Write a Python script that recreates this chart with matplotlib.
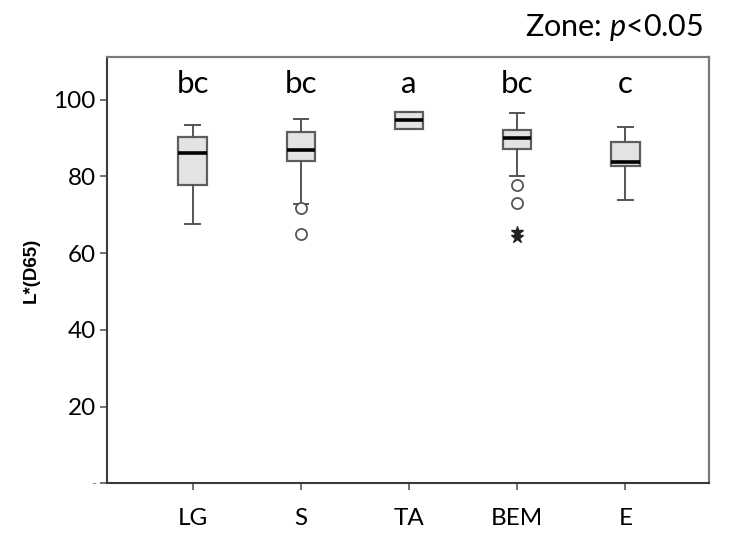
import matplotlib
matplotlib.use('Agg')
import matplotlib.pyplot as plt

plt.rcParams['font.family'] = ['Lato', 'DejaVu Sans']
plt.rcParams['mathtext.fontset'] = 'custom'
plt.rcParams['mathtext.rm'] = 'Lato'
plt.rcParams['mathtext.it'] = 'Lato:italic'

# values
groups = ['LG', 'S', 'TA', 'BEM', 'E']
whislo = [67.6, 72.9, 92.3, 80.2, 73.9]
q1 = [77.8, 83.9, 92.3, 87.1, 82.6]
med = [86.0, 86.9, 94.6, 90.0, 83.7]
q3 = [90.3, 91.7, 96.8, 92.0, 89.1]
whishi = [93.5, 95.0, 96.8, 96.5, 93.0]
outliers = [[], [71.7, 65.0], [], [77.8, 73.0], []]
extremes = [[], [], [], [65.6, 64.1], []]
letters = ['bc', 'bc', 'a', 'bc', 'c']
yticks = [0, 20, 40, 60, 80, 100]
ytick_labels = ['-', '20', '40', '60', '80', '100']

fig = plt.figure(figsize=(7.33, 5.34), dpi=100)
ax = fig.add_axes([0.146, 0.095, 0.821, 0.798])

stats = []
for i in range(len(groups)):
    stats.append(dict(whislo=whislo[i], q1=q1[i], med=med[i], q3=q3[i],
                      whishi=whishi[i], fliers=outliers[i], label=groups[i]))

pos = list(range(1, len(groups) + 1))
ax.bxp(stats, positions=pos, widths=0.26, patch_artist=True,
       boxprops=dict(facecolor='#e3e3e3', edgecolor='#5e5e5e', linewidth=1.6),
       medianprops=dict(color='black', linewidth=2.6),
       whiskerprops=dict(color='#555555', linewidth=1.4),
       capprops=dict(color='#555555', linewidth=1.4),
       capwidths=0.13,
       flierprops=dict(marker='o', markerfacecolor='white', markeredgecolor='#555555',
                       markersize=8, markeredgewidth=1.3))

for i, ex in enumerate(extremes):
    if ex:
        ax.plot([pos[i]] * len(ex), ex, linestyle='none', marker='*',
                color='#222222', markersize=9)

for i, lab in enumerate(letters):
    ax.text(pos[i], 101.7, lab, ha='center', va='baseline', fontsize=22.5)

ax.set_xlim(0.21, 5.77)
ax.set_ylim(0, 111.1)
ax.set_yticks(yticks)
ax.set_yticklabels(ytick_labels, fontsize=17.5)
ax.get_yticklabels()[0].set_color('#888888')
ax.get_yticklabels()[0].set_fontsize(10)
ax.set_xticks(pos)
ax.set_xticklabels(groups, fontsize=17.5)
ax.tick_params(axis='y', length=5, width=1.3, color='#666666', pad=3)
ax.tick_params(axis='x', length=5, width=1.3, color='#666666', pad=13)

for s in ['left', 'bottom']:
    ax.spines[s].set_color('#3a3a3a')
    ax.spines[s].set_linewidth(1.5)
for s in ['top', 'right']:
    ax.spines[s].set_color('#7a7a7a')
    ax.spines[s].set_linewidth(1.6)

ax.set_ylabel('L*(D65)', fontsize=13.5, fontweight='bold',
              family=['Liberation Sans', 'DejaVu Sans'], labelpad=10)

fig.text(0.959, 0.948, 'Zone: $p$<0.05', ha='right', va='center', fontsize=22)

fig.savefig('out.png', dpi=100)
